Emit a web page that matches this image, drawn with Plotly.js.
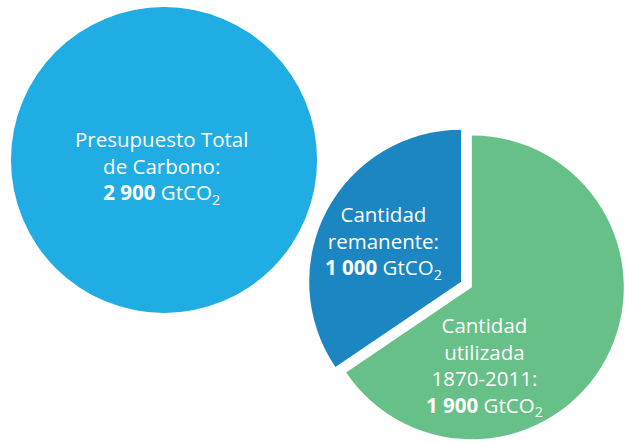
<!DOCTYPE html>
<html>
<head>
<meta charset="utf-8">
<script src="https://cdn.plot.ly/plotly-3.0.1.min.js"></script>
<style>html,body{margin:0;padding:0;background:#fff;}#chart{width:625px;height:443px;}</style>
</head>
<body>
<div id="chart"></div>
<script>
const totalLabels = ['Presupuesto Total<br>de Carbono:'];
const totalValues = [2900];
const partLabels = ['Cantidad<br>utilizada<br>1870-2011:', 'Cantidad<br>remanente:'];
const partValues = [1900, 1000];
const unit = 'GtCO<sub>2</sub>';

const W = 625, H = 443;
function fmt(v) { return String(v).replace(/\B(?=(\d{3})+(?!\d))/g, ' '); }
function px(x) { return x / W; }
function py(y) { return 1 - y / H; }

const traces = [
  {
    type: 'pie',
    values: totalValues,
    labels: totalLabels,
    sort: false,
    textinfo: 'none',
    hoverinfo: 'label+value',
    showlegend: false,
    marker: { colors: ['#1fade3'], line: { width: 0 } },
    domain: { x: [px(11), px(317)], y: [py(313), py(7)] }
  },
  {
    type: 'pie',
    values: partValues,
    labels: partLabels,
    sort: false,
    direction: 'clockwise',
    rotation: 0,
    pull: [0.04, 0.04],
    textinfo: 'none',
    hoverinfo: 'label+value',
    showlegend: false,
    marker: { colors: ['#67c087', '#1b86c1'], line: { width: 0 } },
    domain: { x: [px(308), 1], y: [py(442.5), py(126.5)] }
  }
];

const font = { family: 'Open Sans, sans-serif', size: 20.5, color: '#ffffff' };
function ann(text, value, x, y) {
  return {
    xref: 'paper', yref: 'paper', x: px(x), y: py(y),
    xanchor: 'center', yanchor: 'middle', showarrow: false, align: 'center',
    text: text + '<br><b>' + fmt(value) + '</b> ' + unit, font: font
  };
}

const layout = {
  width: W, height: H,
  margin: { l: 0, r: 0, t: 0, b: 0 },
  paper_bgcolor: '#ffffff',
  showlegend: false,
  annotations: [
    ann(totalLabels[0], totalValues[0], 161, 167),
    ann(partLabels[1], partValues[1], 384, 242),
    ann(partLabels[0], partValues[0], 484, 366)
  ]
};

Plotly.newPlot('chart', traces, layout, { displayModeBar: false, staticPlot: true });
</script>
</body>
</html>
